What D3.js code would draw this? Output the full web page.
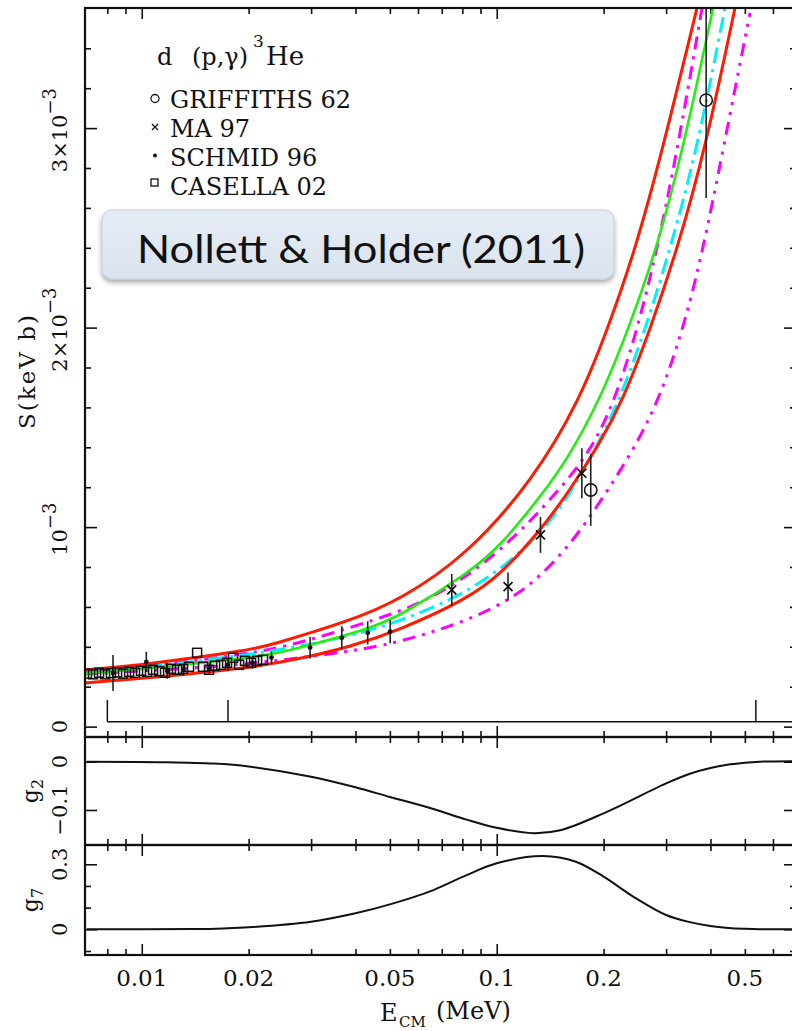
<!DOCTYPE html>
<html>
<head>
<meta charset="utf-8">
<script src="https://cdn.jsdelivr.net/npm/d3@7"></script>
<style>
  body { margin: 0; background: #fff; }
  svg { display: block; }
  text { font-family: "DejaVu Serif", serif; fill: #111; }
</style>
</head>
<body>
<svg id="chart" width="792" height="1031"></svg>
<script>
// ---------- axis domains and ticks ----------
const xDomain = [0.00692, 0.6967];               // E_CM in MeV (log axis)
const xMinorTicks = [0.008, 0.009, 0.02, 0.03, 0.04, 0.05, 0.06, 0.07, 0.08, 0.09, 0.2, 0.3, 0.4, 0.5, 0.6];
const xMajorTicks = [0.01, 0.1];
const xTickLabels = [0.01, 0.02, 0.05, 0.1, 0.2, 0.5];

const sDomain = [-0.052, 3.602];                 // S in units of 10^-3 keV b
const sMajorTicks = [0, 1, 2, 3];
const sMinorTicks = [0.2, 0.4, 0.6, 0.8, 1.2, 1.4, 1.6, 1.8, 2.2, 2.4, 2.6, 2.8, 3.2, 3.4];
const sTickLabels = [
  { v: 0, base: "0", exp: "" },
  { v: 1, base: "10", exp: "\u22123" },
  { v: 2, base: "2\u00d710", exp: "\u22123" },
  { v: 3, base: "3\u00d710", exp: "\u22123" }
];

const g2Domain = [-0.1725, 0.0511];
const g2MajorTicks = [0, -0.1];
const g2TickLabels = ["0", "\u22120.1"];

const g7Domain = [-0.1186, 0.389];
const g7MajorTicks = [0, 0.3];
const g7MinorTicks = [-0.1, 0.1, 0.2];
const g7TickLabels = ["0", "0.3"];

// ---------- S-factor model curves (E in MeV, S in 10^-3 keV b) ----------
const redUpperE = [0.00692, 0.01055, 0.02019, 0.02298, 0.03863, 0.05341, 0.08249, 0.1266, 0.1716, 0.2059, 0.2437, 0.2922, 0.3666];
const redUpperS = [0.284, 0.314, 0.384, 0.408, 0.530, 0.635, 0.860, 1.237, 1.638, 2.000, 2.370, 2.880, 3.603];

const greenE = [0.00692, 0.01055, 0.02019, 0.02453, 0.04397, 0.05341, 0.08411, 0.1022, 0.1324, 0.1578, 0.1955, 0.2374, 0.2811, 0.3348, 0.4068];
const greenS = [0.264, 0.294, 0.344, 0.368, 0.490, 0.555, 0.775, 0.905, 1.150, 1.337, 1.638, 2.015, 2.385, 2.891, 3.603];

const redLowerE = [0.00692, 0.01055, 0.02019, 0.02792, 0.03863, 0.05341, 0.08249, 0.1022, 0.1324, 0.1609, 0.1955, 0.2269, 0.2703, 0.3221, 0.3862, 0.4691];
const redLowerS = [0.219, 0.244, 0.294, 0.340, 0.400, 0.485, 0.640, 0.760, 0.980, 1.186, 1.422, 1.638, 1.989, 2.390, 2.891, 3.603];

const cyanE = [0.00692, 0.02019, 0.03863, 0.05341, 0.07386, 0.1022, 0.1413, 0.1773, 0.2225, 0.2617, 0.3077, 0.3666, 0.4397];
const cyanS = [0.269, 0.354, 0.450, 0.530, 0.630, 0.780, 1.011, 1.287, 1.638, 1.989, 2.390, 2.891, 3.603];

const magentaAE = [0.00692, 0.02019, 0.03018, 0.05341, 0.06489, 0.08411, 0.1126, 0.1395, 0.1796, 0.2113, 0.2453, 0.2811, 0.3221, 0.3788];
const magentaAS = [0.269, 0.359, 0.435, 0.575, 0.645, 0.760, 0.951, 1.125, 1.350, 1.598, 1.949, 2.365, 2.881, 3.603];

const magentaBE = [0.00692, 0.01459, 0.02298, 0.04397, 0.05964, 0.08038, 0.1069, 0.1324, 0.1641, 0.1955, 0.2328, 0.2651, 0.2980, 0.3392, 0.3812, 0.4341, 0.5171];
const magentaBS = [0.264, 0.294, 0.325, 0.389, 0.450, 0.525, 0.625, 0.750, 0.930, 1.126, 1.336, 1.517, 1.723, 2.028, 2.390, 2.891, 3.578];

// ---------- measurements ----------
const griffithsE = [0.184, 0.389];
const griffithsS = [1.186, 3.14];
const griffithsErr = [0.18, 0.49];

const maE = [0.0747, 0.1076, 0.1328, 0.1737];
const maS = [0.685, 0.702, 0.961, 1.27];
const maErr = [0.08, 0.07, 0.09, 0.125];

const schmidE = [0.0083, 0.0103, 0.0118, 0.0131, 0.0155, 0.0175, 0.0205, 0.0232, 0.0298, 0.0366, 0.0433, 0.0501];
const schmidS = [0.269, 0.325, 0.280, 0.285, 0.290, 0.310, 0.320, 0.346, 0.396, 0.445, 0.470, 0.476];
const schmidErr = [0.09, 0.05, 0.04, 0.03, 0.03, 0.03, 0.03, 0.03, 0.055, 0.058, 0.058, 0.058];

const casellaE = [0.00701, 0.00729, 0.00758, 0.00788, 0.00819, 0.00852, 0.00886, 0.00921, 0.00957, 0.00995, 0.01035, 0.01076, 0.01119, 0.01163, 0.01209, 0.01257, 0.01307, 0.01359, 0.01432, 0.01488, 0.01547, 0.01609, 0.01673, 0.01739, 0.01808, 0.01880, 0.01954, 0.02032, 0.02113, 0.02196];
const casellaS = [0.266, 0.262, 0.270, 0.262, 0.268, 0.272, 0.266, 0.275, 0.270, 0.280, 0.275, 0.285, 0.278, 0.270, 0.290, 0.285, 0.290, 0.300, 0.370, 0.300, 0.285, 0.305, 0.310, 0.320, 0.345, 0.310, 0.330, 0.320, 0.330, 0.335];

// energy-range markers drawn along the bottom of the S panel
const rangeE = [0.008, 0.0175, 0.537];
const rangeBaseS = 0.025, rangeTopS = 0.134;

// ---------- sensitivity functions ----------
const g2E = [0.007, 0.0118, 0.016, 0.02, 0.03, 0.04, 0.05, 0.0663, 0.0822, 0.1, 0.127, 0.151, 0.2, 0.3, 0.35, 0.4, 0.45, 0.5, 0.55, 0.69];
const g2V = [0, -0.001, -0.004, -0.010, -0.031, -0.053, -0.073, -0.098, -0.120, -0.137, -0.148, -0.142, -0.107, -0.045, -0.025, -0.013, -0.006, -0.002, 0.0, 0.001];

const g7E = [0.007, 0.014, 0.017, 0.02, 0.03, 0.04, 0.05, 0.0663, 0.0822, 0.1, 0.135, 0.167, 0.2, 0.243, 0.3, 0.35, 0.4, 0.45, 0.5, 0.55, 0.69];
const g7V = [0, 0.001, 0.004, 0.009, 0.035, 0.074, 0.115, 0.181, 0.250, 0.305, 0.338, 0.312, 0.243, 0.150, 0.066, 0.033, 0.015, 0.006, 0.002, 0.0, 0.0];

// ---------- layout ----------
const L = 85, R = 796;
const topP = { y0: 8, y1: 737 }, g2P = { y0: 737, y1: 845 }, g7P = { y0: 845, y1: 955 };

const svg = d3.select("#chart");
const x = d3.scaleLog().domain(xDomain).range([L, R]);
const yS = d3.scaleLinear().domain(sDomain).range([topP.y1, topP.y0]);
const yG2 = d3.scaleLinear().domain(g2Domain).range([g2P.y1, g2P.y0]);
const yG7 = d3.scaleLinear().domain(g7Domain).range([g7P.y1, g7P.y0]);

const defs = svg.append("defs");
defs.append("clipPath").attr("id", "clipS").append("rect")
  .attr("x", L).attr("y", topP.y0).attr("width", R - L).attr("height", topP.y1 - topP.y0);
defs.append("clipPath").attr("id", "clipG").append("rect")
  .attr("x", L).attr("y", g2P.y0).attr("width", R - L).attr("height", g7P.y1 - g2P.y0);

// ---------- x ticks on every panel edge ----------
function xTicks(yPos, inwardDown) {
  const make = inwardDown ? d3.axisTop : d3.axisBottom;
  [[xMinorTicks, 6], [xMajorTicks, 11]].forEach(([vals, len]) => {
    const g = svg.append("g").attr("transform", `translate(0,${yPos})`)
      .call(make(x).tickValues(vals).tickSize(-len).tickFormat(""));
    g.select(".domain").remove();
    g.selectAll("line").attr("stroke", "#111").attr("stroke-width", 1.6);
  });
}
xTicks(topP.y0, true);
xTicks(topP.y1, false);
xTicks(g2P.y0, true);
xTicks(g2P.y1, false);
xTicks(g7P.y0, true);
xTicks(g7P.y1, false);

// ---------- y ticks, both sides ----------
function yTicks(scale, major, minor) {
  [[major, 12], [minor, 6]].forEach(([vals, len]) => {
    if (!vals.length) return;
    const gl = svg.append("g").attr("transform", `translate(${L},0)`)
      .call(d3.axisLeft(scale).tickValues(vals).tickSize(-len).tickFormat(""));
    const gr = svg.append("g").attr("transform", `translate(${R},0)`)
      .call(d3.axisRight(scale).tickValues(vals).tickSize(-len).tickFormat(""));
    [gl, gr].forEach(g => {
      g.select(".domain").remove();
      g.selectAll("line").attr("stroke", "#111").attr("stroke-width", 1.6);
    });
  });
}
yTicks(yS, sMajorTicks, sMinorTicks);
yTicks(yG2, g2MajorTicks, []);
yTicks(yG7, g7MajorTicks, g7MinorTicks);

// ---------- model curves ----------
const sLine = d3.line().x(d => x(d[0])).y(d => yS(d[1])).curve(d3.curveBasis);
const curves = [
  { E: magentaBE, S: magentaBS, color: "#ff00ff", w: 3, dash: "13,7,3,7,3,7" },
  { E: magentaAE, S: magentaAS, color: "#ff00ff", w: 3, dash: "13,7,3,7" },
  { E: cyanE, S: cyanS, color: "#00f0ff", w: 3, dash: "16,6,3,6" },
  { E: redLowerE, S: redLowerS, color: "#ff1a00", w: 3, dash: null },
  { E: redUpperE, S: redUpperS, color: "#ff1a00", w: 3, dash: null },
  { E: greenE, S: greenS, color: "#22ee11", w: 2.6, dash: null }
];
const curveG = svg.append("g").attr("clip-path", "url(#clipS)");
curves.forEach(c => {
  curveG.append("path")
    .datum(c.E.map((e, i) => [e, c.S[i]]))
    .attr("d", sLine)
    .attr("fill", "none")
    .attr("stroke", c.color)
    .attr("stroke-width", c.w)
    .attr("stroke-dasharray", c.dash);
});

// ---------- measurements ----------
const dataG = svg.append("g").attr("clip-path", "url(#clipS)");
function errorBars(E, S, err) {
  dataG.append("g").selectAll("line").data(E.map((e, i) => [e, S[i], err[i]])).join("line")
    .attr("x1", d => x(d[0])).attr("x2", d => x(d[0]))
    .attr("y1", d => yS(d[1] - d[2])).attr("y2", d => yS(d[1] + d[2]))
    .attr("stroke", "#222").attr("stroke-width", 1.6);
}
errorBars(griffithsE, griffithsS, griffithsErr);
errorBars(maE, maS, maErr);
errorBars(schmidE, schmidS, schmidErr);

dataG.append("g").selectAll("rect").data(casellaE.map((e, i) => [e, casellaS[i]])).join("rect")
  .attr("x", d => x(d[0]) - 4.5).attr("y", d => yS(d[1]) - 4.5)
  .attr("width", 9).attr("height", 9)
  .attr("fill", "none").attr("stroke", "#111").attr("stroke-width", 1.5);

dataG.append("g").selectAll("circle").data(schmidE.map((e, i) => [e, schmidS[i]])).join("circle")
  .attr("cx", d => x(d[0])).attr("cy", d => yS(d[1])).attr("r", 2.4).attr("fill", "#111");

const crossPath = (cx, cy, s) => `M${cx - s},${cy - s}L${cx + s},${cy + s}M${cx - s},${cy + s}L${cx + s},${cy - s}`;
dataG.append("g").selectAll("path").data(maE.map((e, i) => [e, maS[i]])).join("path")
  .attr("d", d => crossPath(x(d[0]), yS(d[1]), 4.5))
  .attr("stroke", "#111").attr("stroke-width", 1.7).attr("fill", "none");

dataG.append("g").selectAll("circle").data(griffithsE.map((e, i) => [e, griffithsS[i]])).join("circle")
  .attr("cx", d => x(d[0])).attr("cy", d => yS(d[1])).attr("r", 6.2)
  .attr("fill", "none").attr("stroke", "#111").attr("stroke-width", 1.5);

// energy-range markers
const rangeG = svg.append("g").attr("stroke", "#111").attr("stroke-width", 1.5);
rangeG.append("line")
  .attr("x1", x(rangeE[0])).attr("x2", R)
  .attr("y1", yS(rangeBaseS)).attr("y2", yS(rangeBaseS));
rangeG.selectAll("line.v").data(rangeE).join("line").attr("class", "v")
  .attr("x1", d => x(d)).attr("x2", d => x(d))
  .attr("y1", yS(rangeBaseS)).attr("y2", yS(rangeTopS));

// ---------- g2 and g7 panels ----------
const gLine = yScale => d3.line().x(d => x(d[0])).y(d => yScale(d[1])).curve(d3.curveCatmullRom.alpha(0.5));
const gG = svg.append("g").attr("clip-path", "url(#clipG)");
gG.append("path").datum(g2E.map((e, i) => [e, g2V[i]]))
  .attr("d", gLine(yG2))
  .attr("fill", "none").attr("stroke", "#111").attr("stroke-width", 2);
gG.append("path").datum(g7E.map((e, i) => [e, g7V[i]]))
  .attr("d", gLine(yG7))
  .attr("fill", "none").attr("stroke", "#111").attr("stroke-width", 2);

// ---------- frames ----------
[topP, g2P, g7P].forEach(p => {
  svg.append("rect").attr("x", L).attr("y", p.y0).attr("width", R - L).attr("height", p.y1 - p.y0)
    .attr("fill", "none").attr("stroke", "#111").attr("stroke-width", 2.2);
});

// ---------- tick labels ----------
svg.append("g").selectAll("text").data(xTickLabels).join("text")
  .attr("x", d => x(d)).attr("y", 986)
  .attr("text-anchor", "middle").attr("font-size", 23)
  .text(d => String(d));

function rotLabel(xPos, yPos, base, exp, size) {
  const t = svg.append("text")
    .attr("transform", `translate(${xPos},${yPos}) rotate(-90)`)
    .attr("text-anchor", "middle").attr("font-size", size);
  t.append("tspan").text(base);
  if (exp) t.append("tspan").attr("dy", -11).attr("font-size", 18).text(exp);
  return t;
}
sTickLabels.forEach(l => rotLabel(67, yS(l.v) + (l.exp ? 2 : 0), l.base, l.exp, 21));
g2MajorTicks.forEach((v, i) => rotLabel(67, yG2(v), g2TickLabels[i], "", 21));
g7MajorTicks.forEach((v, i) => rotLabel(67, yG7(v), g7TickLabels[i], "", 21));

// axis titles
svg.append("text").attr("transform", "translate(35,372) rotate(-90)")
  .attr("text-anchor", "middle").attr("font-size", 23)
  .attr("textLength", 114).attr("lengthAdjust", "spacing")
  .text("S(keV b)");
function gTitle(yPos, sub) {
  const t = svg.append("text").attr("transform", `translate(38,${yPos}) rotate(-90)`)
    .attr("text-anchor", "middle").attr("font-size", 22);
  t.append("tspan").text("g");
  t.append("tspan").attr("dy", 5).attr("font-size", 16).text(sub);
}
gTitle(791, "2");
gTitle(900, "7");

svg.append("text").attr("x", 380).attr("y", 1021).attr("font-size", 24).text("E");
svg.append("text").attr("x", 399).attr("y", 1027).attr("font-size", 15).text("CM");
svg.append("text").attr("x", 436).attr("y", 1019).attr("font-size", 24).text("(MeV)");

// ---------- legend ----------
svg.append("text").attr("x", 157).attr("y", 65).attr("font-size", 24).text("d");
svg.append("text").attr("x", 192).attr("y", 65).attr("font-size", 24).text("(p,\u03b3)");
svg.append("text").attr("x", 253).attr("y", 47).attr("font-size", 17).text("3");
svg.append("text").attr("x", 266).attr("y", 65).attr("font-size", 26).text("He");

const legendItems = ["GRIFFITHS 62", "MA 97", "SCHMID 96", "CASELLA 02"];
const legendY = [108, 137, 166, 195];
legendItems.forEach((s, i) => {
  svg.append("text").attr("x", 170).attr("y", legendY[i]).attr("font-size", 24).text(s);
});
const lg = svg.append("g").attr("stroke", "#111").attr("fill", "none").attr("stroke-width", 1.3);
lg.append("circle").attr("cx", 155).attr("cy", 98.5).attr("r", 4);
lg.append("path").attr("d", crossPath(155, 127, 3));
svg.append("circle").attr("cx", 155).attr("cy", 155.5).attr("r", 2).attr("fill", "#111");
lg.append("rect").attr("x", 151).attr("y", 179).attr("width", 7).attr("height", 7);

// ---------- citation box ----------
const grad = defs.append("linearGradient").attr("id", "boxFill").attr("x1", 0).attr("y1", 0).attr("x2", 0).attr("y2", 1);
grad.append("stop").attr("offset", "0%").attr("stop-color", "#e5ecf5");
grad.append("stop").attr("offset", "100%").attr("stop-color", "#dae3ee");
const shadow = defs.append("filter").attr("id", "boxShadow").attr("x", "-10%").attr("y", "-20%").attr("width", "120%").attr("height", "150%");
shadow.append("feDropShadow").attr("dx", 0).attr("dy", 3).attr("stdDeviation", 2.5).attr("flood-color", "#000").attr("flood-opacity", 0.35);
svg.append("rect").attr("x", 102).attr("y", 210).attr("width", 512).attr("height", 69).attr("rx", 10)
  .attr("fill", "url(#boxFill)").attr("stroke", "#c3cfdd").attr("stroke-width", 1)
  .attr("filter", "url(#boxShadow)");
svg.append("text").attr("x", 361).attr("y", 263).attr("text-anchor", "middle")
  .style("font-family", "Lato, 'Open Sans', sans-serif").attr("font-size", 38)
  .attr("textLength", 448).attr("lengthAdjust", "spacingAndGlyphs")
  .text("Nollett & Holder (2011)");
</script>
</body>
</html>
